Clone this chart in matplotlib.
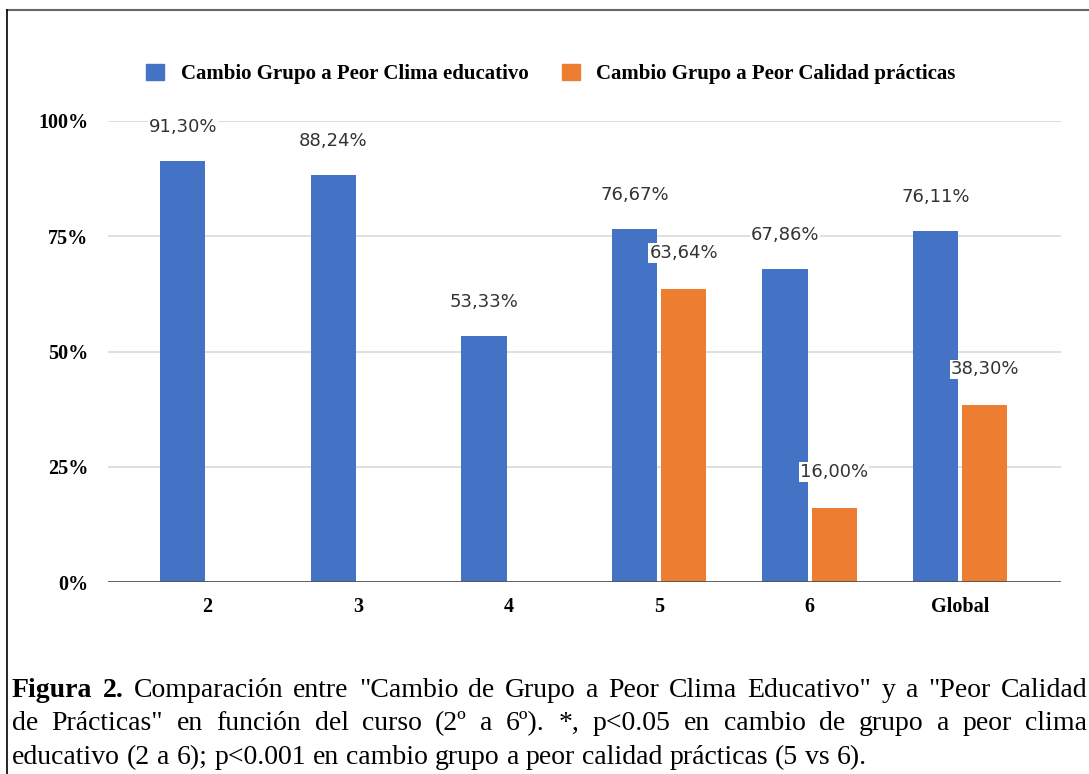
import numpy as np
import matplotlib
matplotlib.use("Agg")
import matplotlib.pyplot as plt
from matplotlib.patches import Patch
from matplotlib.lines import Line2D

cursos = ["2", "3", "4", "5", "6", "Global"]
clima = [91.30, 88.24, 53.33, 76.67, 67.86, 76.11]
practicas = [None, None, None, 63.64, 16.00, 38.30]
serie_clima = "Cambio Grupo a Peor Clima educativo"
serie_practicas = "Cambio Grupo a Peor Calidad prácticas"
yticks = [0, 25, 50, 75, 100]

caption_lines = [
    "Figura 2. Comparación entre \"Cambio de Grupo a Peor Clima Educativo\" y a \"Peor Calidad",
    "de Prácticas\" en función del curso (2º a 6º). *, p<0.05 en cambio de grupo a peor clima",
    "educativo (2 a 6); p<0.001 en cambio grupo a peor calidad prácticas (5 vs 6).",
]

azul = "#4472C4"
naranja = "#ED7D31"
W, H = 1089, 774

fig = plt.figure(figsize=(W / 100, H / 100), dpi=100)
ax = fig.add_axes([108 / W, 1 - 582 / H, (1061 - 108) / W, (582 - 121) / H])

x = np.arange(len(cursos))
bw = 0.30
gap = 0.013
ax.bar(x - gap - bw / 2, clima, width=bw, color=azul, zorder=2)
xo = [i for i, v in enumerate(practicas) if v is not None]
vo = [practicas[i] for i in xo]
ax.bar(np.array(xo) + gap + bw / 2, vo, width=bw, color=naranja, zorder=2)

lab_kw = dict(textcoords="offset pixels", ha="center", va="center", fontsize=13,
              color="#333333", family="DejaVu Sans", zorder=4,
              bbox=dict(boxstyle="square,pad=0.05", fc="white", ec="none"))
for i, v in enumerate(clima):
    ax.annotate(f"{v:.2f}%".replace(".", ","), (x[i] - gap - bw / 2, v), xytext=(0, 34), **lab_kw)
for i, v in zip(xo, vo):
    ax.annotate(f"{v:.2f}%".replace(".", ","), (i + gap + bw / 2, v), xytext=(0, 36), **lab_kw)

ax.set_xlim(-0.66, len(cursos) - 1 + 0.67)
ax.set_ylim(0, 100)
ax.set_yticks(yticks)
ax.set_yticklabels([f"{t}%" for t in yticks], family="Liberation Serif",
                   fontweight="bold", fontsize=14.5)
ax.set_xticks(x)
ax.set_xticklabels(cursos, family="Liberation Serif", fontweight="bold", fontsize=14.5)
ax.tick_params(axis="y", length=0, pad=14)
ax.tick_params(axis="x", length=0, pad=11)
for s in ax.spines.values():
    s.set_visible(False)
for t in yticks[1:]:
    ax.axhline(t, color="#d9d9d9", lw=1.2, zorder=1)
ax.axhline(0, color="#555555", lw=1.3, zorder=3)

handles = [Patch(color=azul), Patch(color=naranja)]
fig.legend(handles, [serie_clima, serie_practicas], loc="center",
           bbox_to_anchor=(551 / W, 1 - 74 / H), ncol=2, frameon=False,
           prop=dict(family="Liberation Serif", weight="bold", size=15),
           handlelength=0.85, handleheight=0.85, handletextpad=0.8, columnspacing=1.6)

# borde de la figura
fig.add_artist(Line2D([7 / W, 1], [1 - 10 / H, 1 - 10 / H], color="#666666", lw=1.5))
fig.add_artist(Line2D([7 / W, 7 / W], [0, 1 - 10 / H], color="black", lw=1.2))

# pie de figura justificado
fig.canvas.draw()
r = fig.canvas.get_renderer()
cap_kw = dict(family="Liberation Serif", fontsize=20, va="baseline", ha="left")
x0, x1 = 12, 1087
baselines = [697, 730, 764]
for li, (line, yb) in enumerate(zip(caption_lines, baselines)):
    words = line.split(" ")
    arts = []
    for wi, w in enumerate(words):
        bold = li == 0 and wi < 2
        t = fig.text(0, 1 - yb / H, w, fontweight="bold" if bold else "normal", **cap_kw)
        arts.append(t)
    widths = [a.get_window_extent(r).width for a in arts]
    if li < 2:
        sp = (x1 - x0 - sum(widths)) / (len(words) - 1)
    else:
        sp = fig.text(0, 0, "a a", **cap_kw).get_window_extent(r).width
        sp -= 2 * fig.text(0, 0, "a", **cap_kw).get_window_extent(r).width
        for t in fig.texts[-2:]:
            t.remove()
    pos = x0
    for a, w in zip(arts, widths):
        a.set_x(pos / W)
        pos += w + sp

fig.savefig("out.png", dpi=100)
